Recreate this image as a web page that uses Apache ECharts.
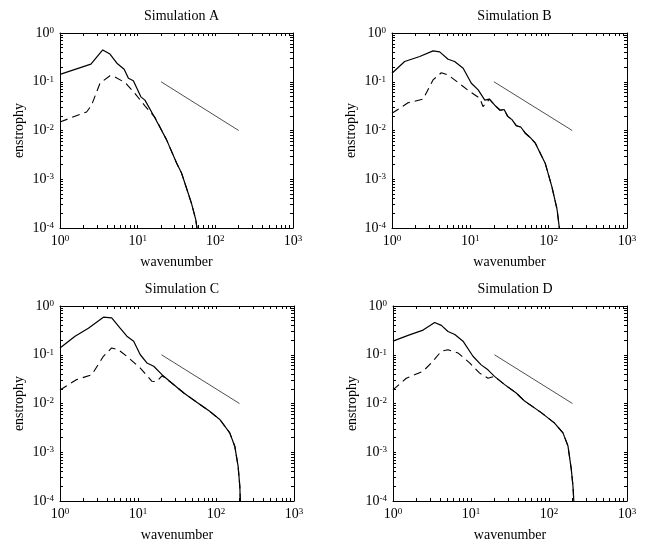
<!DOCTYPE html>
<html>
<head>
<meta charset="utf-8">
<script src="https://cdn.jsdelivr.net/npm/echarts@6/dist/echarts.min.js"></script>
<style>
  html, body { margin: 0; padding: 0; background: #fff; }
  #main { width: 650px; height: 546px; }
</style>
</head>
<body>
<div id="main"></div>
<script>
// titles
var titles = ['Simulation A', 'Simulation B', 'Simulation C', 'Simulation D'];

// Simulation A
var aSolidK = [1, 2.5, 3.55, 4.4, 5.4, 6.7, 7.6, 8.8, 11, 12.4, 16.7, 23.5, 31.7, 36.7, 42.5, 49.3, 56, 58];
var aSolidE = [0.142, 0.23, 0.45, 0.37, 0.24, 0.18, 0.118, 0.105, 0.049, 0.042, 0.018, 0.0065, 0.00215, 0.00134, 0.00066, 0.00032, 0.000148, 0.0001];
var aDashK = [1, 2.2, 2.55, 3.27, 4.4, 5, 6.9, 9.2, 12.4, 16.7, 23.5, 31.7, 36.7, 42.5, 49.3, 56, 58];
var aDashE = [0.015, 0.024, 0.033, 0.093, 0.133, 0.127, 0.096, 0.058, 0.032, 0.0186, 0.0065, 0.00215, 0.00134, 0.00066, 0.00032, 0.000148, 0.0001];

// Simulation B
var bSolidK = [1, 1.45, 2.26, 3.34, 4.06, 5.2, 6.3, 8.1, 10.3, 12.6, 15.3, 17.5, 20.5, 24, 27, 30, 34, 38.7, 44, 50, 58, 67.6, 90.6, 110, 128, 137];
var bSolidE = [0.149, 0.26, 0.33, 0.43, 0.41, 0.29, 0.26, 0.19, 0.093, 0.068, 0.042, 0.044, 0.033, 0.026, 0.027, 0.0195, 0.0167, 0.0125, 0.0118, 0.0089, 0.0072, 0.0055, 0.0021, 0.0007, 0.00024, 0.0001];
var bDashK = [1, 1.6, 2.5, 3.34, 4.26, 5.2, 7, 9.8, 13.2, 14.5, 17.5, 20.5, 24, 27, 30, 34, 38.7, 44, 50, 58, 67.6, 90.6, 110, 128, 137];
var bDashE = [0.0225, 0.037, 0.044, 0.109, 0.153, 0.138, 0.096, 0.063, 0.046, 0.031, 0.044, 0.033, 0.026, 0.027, 0.0195, 0.0167, 0.0125, 0.0118, 0.0089, 0.0072, 0.0055, 0.0021, 0.0007, 0.00024, 0.0001];

// Simulation C
var cSolidK = [1, 1.56, 2.31, 3.6, 4.6, 5.9, 7.2, 8.8, 10.7, 13, 15.9, 20.3, 27.3, 38.7, 51, 83, 112, 150, 174, 192, 202, 205];
var cSolidE = [0.138, 0.24, 0.35, 0.59, 0.57, 0.35, 0.24, 0.19, 0.1, 0.068, 0.058, 0.039, 0.026, 0.0164, 0.012, 0.0069, 0.0047, 0.0025, 0.00133, 0.00052, 0.0002, 0.0001];
var cDashK = [1, 1.64, 2.56, 3.6, 4.6, 5.6, 7.2, 10.7, 15.1, 17.3, 20.3, 27.3, 38.7, 51, 83, 112, 150, 174, 192, 202, 205];
var cDashE = [0.019, 0.031, 0.039, 0.093, 0.138, 0.127, 0.093, 0.053, 0.0285, 0.028, 0.037, 0.026, 0.0164, 0.012, 0.0069, 0.0047, 0.0025, 0.00133, 0.00052, 0.0002, 0.0001];

// Simulation D
var dSolidK = [1, 1.56, 2.43, 3.42, 4.17, 5.07, 6.2, 7.9, 10.6, 13.5, 16.5, 20, 27, 38, 48.7, 79.5, 117, 151, 175, 193, 203, 208];
var dSolidE = [0.19, 0.25, 0.32, 0.46, 0.4, 0.3, 0.26, 0.19, 0.093, 0.062, 0.049, 0.036, 0.0244, 0.0164, 0.0112, 0.0065, 0.004, 0.0025, 0.00135, 0.00045, 0.0002, 0.0001];
var dDashK = [1, 1.48, 2.43, 3.1, 4.17, 5.07, 6.8, 9.6, 12.9, 16.5, 20, 27, 38, 48.7, 79.5, 117, 151, 175, 193, 203, 208];
var dDashE = [0.019, 0.033, 0.046, 0.068, 0.118, 0.127, 0.109, 0.068, 0.042, 0.033, 0.036, 0.0244, 0.0164, 0.0112, 0.0065, 0.004, 0.0025, 0.00135, 0.00045, 0.0002, 0.0001];

// k^-1 reference slope
var refK = [20, 200];
var refE = [0.1, 0.01];

// tick values
var xMajor = [1, 10, 100, 1000];
var yMajor = [0.0001, 0.001, 0.01, 0.1, 1];

var solidK = [aSolidK, bSolidK, cSolidK, dSolidK];
var solidE = [aSolidE, bSolidE, cSolidE, dSolidE];
var dashK = [aDashK, bDashK, cDashK, dDashK];
var dashE = [aDashE, bDashE, cDashE, dDashE];

var grids = [
  { left: 60, top: 33, width: 233, height: 195, titleTop: 4 },
  { left: 392, top: 33, width: 235, height: 195, titleTop: 4 },
  { left: 60, top: 306, width: 234, height: 195, titleTop: 277 },
  { left: 393, top: 306, width: 234, height: 195, titleTop: 277 }
];

var FONT = 'Liberation Serif';

function pairs(k, e) {
  var out = [];
  for (var i = 0; i < k.length; i++) out.push([k[i], e[i]]);
  return out;
}

function minorTicks(major) {
  var out = [];
  for (var i = 0; i < major.length - 1; i++) {
    for (var m = 1; m < 10; m++) out.push(major[i] * m);
  }
  out.push(major[major.length - 1]);
  return out;
}

function powLabel(v) {
  var n = Math.round(Math.log10(v));
  return '{b|10}{s|' + n + '}';
}

var rich = {
  b: { fontFamily: FONT, fontSize: 14, color: '#000' },
  s: { fontFamily: FONT, fontSize: 9, color: '#000', verticalAlign: 'top' }
};

var xTicks = minorTicks(xMajor);
var yTicks = minorTicks(yMajor);

var option = {
  backgroundColor: '#fff',
  animation: false,
  title: [],
  grid: [],
  xAxis: [],
  yAxis: [],
  series: []
};

grids.forEach(function (g, i) {
  option.grid.push({ left: g.left, top: g.top, width: g.width, height: g.height, containLabel: false });
  option.title.push({
    text: titles[i],
    left: g.left + g.width / 2,
    top: g.titleTop,
    textAlign: 'center',
    textStyle: { fontFamily: FONT, fontSize: 14, fontWeight: 'normal', color: '#000' }
  });
  var lineStyle = { color: '#000', width: 1 };
  option.xAxis.push({
    type: 'log', logBase: 10, gridIndex: i, min: 1, max: 1000, position: 'bottom',
    name: 'wavenumber', nameLocation: 'middle', nameGap: 27,
    nameTextStyle: { fontFamily: FONT, fontSize: 14, color: '#000' },
    axisLine: { show: true, lineStyle: lineStyle },
    axisTick: { show: true, inside: true, length: 3, customValues: xTicks, lineStyle: lineStyle },
    axisLabel: { formatter: powLabel, rich: rich, margin: 6 },
    splitLine: { show: false }
  });
  option.xAxis.push({
    type: 'log', logBase: 10, gridIndex: i, min: 1, max: 1000, position: 'top',
    axisLine: { show: true, lineStyle: lineStyle },
    axisTick: { show: true, inside: true, length: 3, customValues: xTicks, lineStyle: lineStyle },
    axisLabel: { show: false },
    splitLine: { show: false }
  });
  option.yAxis.push({
    type: 'log', logBase: 10, gridIndex: i, min: 0.0001, max: 1, position: 'left',
    name: 'enstrophy', nameLocation: 'middle', nameGap: 34, nameRotate: 90,
    nameTextStyle: { fontFamily: FONT, fontSize: 14, color: '#000' },
    axisLine: { show: true, lineStyle: lineStyle },
    axisTick: { show: true, inside: true, length: 3, customValues: yTicks, lineStyle: lineStyle },
    axisLabel: { formatter: powLabel, rich: rich, margin: 6 },
    splitLine: { show: false }
  });
  option.yAxis.push({
    type: 'log', logBase: 10, gridIndex: i, min: 0.0001, max: 1, position: 'right',
    axisLine: { show: true, lineStyle: lineStyle },
    axisTick: { show: true, inside: true, length: 3, customValues: yTicks, lineStyle: lineStyle },
    axisLabel: { show: false },
    splitLine: { show: false }
  });
  option.series.push({
    type: 'line', xAxisIndex: 2 * i, yAxisIndex: 2 * i,
    data: pairs(solidK[i], solidE[i]),
    showSymbol: false, symbol: 'none', clip: true,
    lineStyle: { color: '#000', width: 1.2 }
  });
  option.series.push({
    type: 'line', xAxisIndex: 2 * i, yAxisIndex: 2 * i,
    data: pairs(dashK[i], dashE[i]),
    showSymbol: false, symbol: 'none', clip: true,
    lineStyle: { color: '#000', width: 1.1, type: [8, 5] }
  });
  option.series.push({
    type: 'line', xAxisIndex: 2 * i, yAxisIndex: 2 * i,
    data: pairs(refK, refE),
    showSymbol: false, symbol: 'none', clip: true,
    lineStyle: { color: '#222', width: 0.8 }
  });
});

var chart = echarts.init(document.getElementById('main'), null, { renderer: 'canvas' });
chart.setOption(option);
</script>
</body>
</html>
